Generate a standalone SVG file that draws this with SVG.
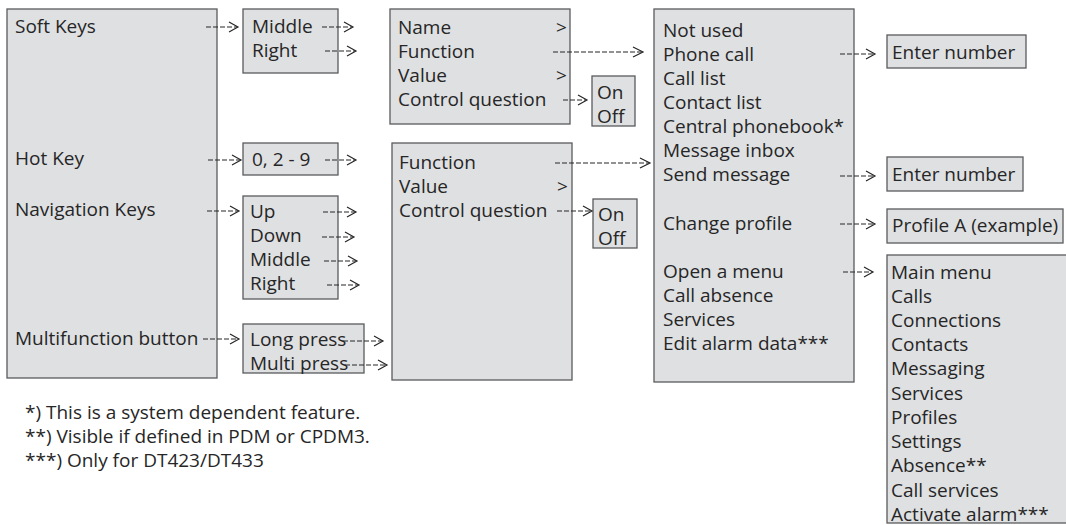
<svg xmlns="http://www.w3.org/2000/svg" width="1066" height="525" viewBox="0 0 1066 525">
<style>
.box{fill:#dfe0e2;stroke:#5a5b5d;stroke-width:1.3}
.t{font-family:"Open Sans","Noto Sans","Liberation Sans",sans-serif;font-size:19px;fill:#262626}
.dash{stroke:#262626;stroke-width:1.2;stroke-dasharray:5 2;fill:none}
.chev{stroke:#262626;stroke-width:1.2;fill:none}
</style>
<rect width="1066" height="525" fill="#ffffff"/>
<g id="keys">
<rect class="box" x="7" y="9" width="210" height="369"/>
<text class="t" x="15" y="33">Soft Keys</text>
<text class="t" x="15" y="165">Hot Key</text>
<text class="t" x="15" y="216">Navigation Keys</text>
<text class="t" x="15" y="345">Multifunction button</text>
</g>
<g id="softkeys">
<rect class="box" x="243" y="9" width="95" height="64"/>
<text class="t" x="252" y="33">Middle</text>
<text class="t" x="252" y="57">Right</text>
</g>
<g id="hotkey">
<rect class="box" x="243" y="143" width="95" height="32"/>
<text class="t" x="252" y="166">0, 2 - 9</text>
</g>
<g id="navkeys">
<rect class="box" x="243" y="196" width="95" height="103"/>
<text class="t" x="250" y="218">Up</text>
<text class="t" x="250" y="242">Down</text>
<text class="t" x="250" y="266">Middle</text>
<text class="t" x="250" y="290">Right</text>
</g>
<g id="multifunction">
<rect class="box" x="243" y="324" width="121" height="49"/>
<text class="t" x="250" y="346">Long press</text>
<text class="t" x="250" y="370">Multi press</text>
</g>
<g id="softkey-settings">
<rect class="box" x="390" y="9" width="180" height="115"/>
<text class="t" x="398" y="34">Name</text>
<text class="t" x="398" y="58">Function</text>
<text class="t" x="398" y="82">Value</text>
<text class="t" x="398" y="106">Control question</text>
<text class="t" x="556" y="34">&gt;</text>
<text class="t" x="556" y="82">&gt;</text>
</g>
<g id="onoff1">
<rect class="box" x="592" y="76" width="43" height="50"/>
<text class="t" x="597" y="99">On</text>
<text class="t" x="597" y="123">Off</text>
</g>
<g id="key-settings">
<rect class="box" x="392" y="143" width="180" height="237"/>
<text class="t" x="399" y="169">Function</text>
<text class="t" x="399" y="193">Value</text>
<text class="t" x="399" y="217">Control question</text>
<text class="t" x="557" y="193">&gt;</text>
</g>
<g id="onoff2">
<rect class="box" x="593" y="199" width="44" height="49"/>
<text class="t" x="598" y="221">On</text>
<text class="t" x="598" y="245">Off</text>
</g>
<g id="functions">
<rect class="box" x="654" y="9" width="200" height="373"/>
<text class="t" x="663" y="37">Not used</text>
<text class="t" x="663" y="61">Phone call</text>
<text class="t" x="663" y="85">Call list</text>
<text class="t" x="663" y="109">Contact list</text>
<text class="t" x="663" y="133">Central phonebook*</text>
<text class="t" x="663" y="157">Message inbox</text>
<text class="t" x="663" y="181">Send message</text>
<text class="t" x="663" y="230">Change profile</text>
<text class="t" x="663" y="278">Open a menu</text>
<text class="t" x="663" y="302">Call absence</text>
<text class="t" x="663" y="326">Services</text>
<text class="t" x="663" y="350">Edit alarm data***</text>
</g>
<g id="enter-number-1">
<rect class="box" x="887" y="35" width="139" height="33"/>
<text class="t" x="892" y="59">Enter number</text>
</g>
<g id="enter-number-2">
<rect class="box" x="887" y="157" width="136" height="34"/>
<text class="t" x="892" y="181">Enter number</text>
</g>
<g id="profile">
<rect class="box" x="887" y="209" width="176" height="34"/>
<text class="t" x="892" y="232">Profile A (example)</text>
</g>
<g id="menus">
<rect class="box" x="887" y="255" width="185" height="268"/>
<text class="t" x="891" y="279">Main menu</text>
<text class="t" x="891" y="303">Calls</text>
<text class="t" x="891" y="327">Connections</text>
<text class="t" x="891" y="351">Contacts</text>
<text class="t" x="891" y="375">Messaging</text>
<text class="t" x="891" y="400">Services</text>
<text class="t" x="891" y="424">Profiles</text>
<text class="t" x="891" y="448">Settings</text>
<text class="t" x="891" y="472">Absence**</text>
<text class="t" x="891" y="497">Call services</text>
<text class="t" x="891" y="521">Activate alarm***</text>
</g>
<g id="footnotes">
<text class="t" x="25" y="419">*) This is a system dependent feature.</text>
<text class="t" x="25" y="443">**) Visible if defined in PDM or CPDM3.</text>
<text class="t" x="25" y="467">***) Only for DT423/DT433</text>
</g>
<g id="connectors">
<path class="dash" d="M206 27H237M322 27H352M325 51H355M553 52H642M563 100H586M208 160H240M325 160H355M555 163H649M557 211H591M207 211H238M323 212H355M322 237H353M324 261H356M327 285H358M203 339H238M343 341H382M345 365H386M840 54H874M840 176H874M840 224H874M843 272H872"/>
<path class="chev" d="M229 22L238 27L229 32M344 22L353 27L344 32M347 46L356 51L347 56M633 47L643 52L633 57M578 95L587 100L578 105M232 155L241 160L232 165M347 155L356 160L347 165M640 158L650 163L640 168M583 206L592 211L583 216M230 206L239 211L230 216M347 207L356 212L347 217M345 232L354 237L345 242M348 256L357 261L348 266M350 280L359 285L350 290M230 334L239 339L230 344M374 336L383 341L374 346M378 360L387 365L378 370M866 49L875 54L866 59M866 171L875 176L866 181M866 219L875 224L866 229M864 267L873 272L864 277"/>
</g>
</svg>
